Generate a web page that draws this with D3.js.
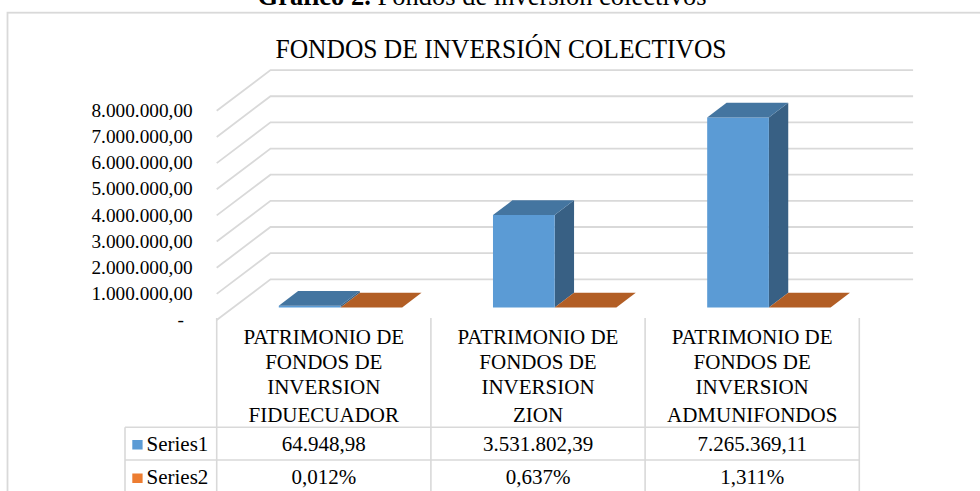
<!DOCTYPE html>
<html>
<head>
<meta charset="utf-8">
<script src="https://cdnjs.cloudflare.com/ajax/libs/d3/7.8.5/d3.min.js"></script>
<style>
  body { margin: 0; background: #fff; }
  svg { display: block; }
</style>
</head>
<body>
<script>
// data
var categories = [
  ["PATRIMONIO DE", "FONDOS DE", "INVERSION", "FIDUECUADOR"],
  ["PATRIMONIO DE", "FONDOS DE", "INVERSION", "ZION"],
  ["PATRIMONIO DE", "FONDOS DE", "INVERSION", "ADMUNIFONDOS"]
];
var seriesNames = ["Series1", "Series2"];
var series1 = [64948.98, 3531802.39, 7265369.11];
var series2 = [0.00012, 0.00637, 0.01311];   // shown as percent in the table
var seriesColors = ["#5B9BD5", "#ED7D31"];
var yTicks = [0, 1e6, 2e6, 3e6, 4e6, 5e6, 6e6, 7e6, 8e6];

var w = 980, h = 491;
var serif = "'Liberation Serif', 'Times New Roman', Times, 'DejaVu Serif', serif";
var es = d3.formatLocale({decimal: ",", thousands: ".", grouping: [3], currency: ["", ""]});
var fmtNum = es.format(",.2f");
var fmtPct = es.format(".3%");

var svg = d3.select("body").append("svg")
  .attr("width", w)
  .attr("height", h)
  .attr("font-family", serif)
  .style("font-family", serif);

svg.append("rect").attr("width", w).attr("height", h).attr("fill", "#fff");

// outer chart border (runs off the right and bottom)
svg.append("rect")
  .attr("x", 7.5).attr("y", 12.7)
  .attr("width", 1000).attr("height", 500)
  .attr("fill", "none").attr("stroke", "#d9d9d9").attr("stroke-width", 1.8);

// caption above, mostly cut off like in the picture
var cap = svg.append("text")
  .attr("x", 482).attr("y", 4.5)
  .attr("text-anchor", "middle")
  .style("font-size", "26.5px");
cap.append("tspan").attr("font-weight", "bold").text("Gráfico 2.");
cap.append("tspan").text(" Fondos de inversión colectivos");

// chart title (a bit narrower than the plain font)
svg.append("text")
  .attr("x", 501).attr("y", 57.7)
  .attr("text-anchor", "middle")
  .attr("textLength", 451)
  .attr("lengthAdjust", "spacingAndGlyphs")
  .style("font-size", "27.7px")
  .text("FONDOS DE INVERSIÓN COLECTIVOS");

// scales: front plane of the 3d box
var x0 = d3.scaleBand().domain(d3.range(categories.length)).range([216.7, 859.3]);
var x1 = d3.scaleBand().domain(d3.range(seriesNames.length))
  .range([0, x0.bandwidth()]).paddingInner(0).paddingOuter(0.736);
var y = d3.scaleLinear().domain([0, 8e6]).range([320, 110.8]);

// oblique depth offset for one unit of depth
var DX = 53.8, DY = -40.7;
function P(x, v, d) { return [x + d * DX, y(v) + d * DY]; }

var grid = svg.append("g").attr("stroke", "#d9d9d9").attr("stroke-width", 1.8).attr("fill", "none");
yTicks.forEach(function(t) {
  var a = P(x0.range()[0], t, 0), b = P(x0.range()[0], t, 1), c = P(x0.range()[1], t, 1);
  grid.append("path").attr("d", d3.line()([a, b, c]));
});

// axis labels
svg.append("g").selectAll("text")
  .data(yTicks)
  .enter().append("text")
  .attr("x", function(d) { return d === 0 ? 184 : 192.7; })
  .attr("y", function(d) { return y(d); })
  .attr("dy", "0.32em")
  .attr("text-anchor", "end")
  .style("font-size", "19.3px")
  .text(function(d) { return d === 0 ? "-" : fmtNum(d); });

// bars
var d0 = 0.31, d1 = 0.67;
var bars = [];
categories.forEach(function(c, i) {
  [series1, series2].forEach(function(s, j) {
    bars.push({i: i, j: j, v: s[i]});
  });
});
var line = d3.line();
var bg = svg.append("g");
bars.forEach(function(b) {
  var xa = x0(b.i) + x1(b.j), xb = xa + x1.bandwidth();
  var base = d3.rgb(seriesColors[b.j]);
  var g = bg.append("g");
  g.append("path")  // side
    .attr("d", line([P(xb, b.v, d0), P(xb, b.v, d1), P(xb, 0, d1), P(xb, 0, d0)]) + "Z")
    .attr("fill", base.darker(1.35));
  g.append("path")  // front
    .attr("d", line([P(xa, b.v, d0), P(xb, b.v, d0), P(xb, 0, d0), P(xa, 0, d0)]) + "Z")
    .attr("fill", base);
  g.append("path")  // top
    .attr("d", line([P(xa, b.v, d0), P(xb, b.v, d0), P(xb, b.v, d1), P(xa, b.v, d1)]) + "Z")
    .attr("fill", base.darker(0.8));
});

// data table under the chart
var tl = svg.append("g").attr("stroke", "#d9d9d9").attr("stroke-width", 1.6);
var colEdges = x0.domain().map(function(i) { return x0(i); }).concat([x0.range()[1]]);
colEdges.forEach(function(xe) {
  tl.append("line").attr("x1", xe).attr("x2", xe).attr("y1", 318).attr("y2", h);
});
tl.append("line").attr("x1", 125).attr("x2", 125).attr("y1", 427.3).attr("y2", h);
[427.3, 460].forEach(function(yy) {
  tl.append("line").attr("x1", 125).attr("x2", x0.range()[1]).attr("y1", yy).attr("y2", yy);
});

var lineY = [344, 369, 394, 422.3];
categories.forEach(function(c, i) {
  var t = svg.append("text")
    .attr("text-anchor", "middle")
    .style("font-size", "21px");
  c.forEach(function(s, k) {
    t.append("tspan").attr("x", x0(i) + x0.bandwidth() / 2).attr("y", lineY[k]).text(s);
  });
});

var rowY = [450.5, 484];
var rowVals = [series1.map(fmtNum), series2.map(fmtPct)];
seriesNames.forEach(function(name, j) {
  svg.append("rect")
    .attr("x", 132.3).attr("y", rowY[j] - 10.5)
    .attr("width", 10.3).attr("height", 9.5)
    .attr("fill", seriesColors[j]);
  svg.append("text")
    .attr("x", 146.5).attr("y", rowY[j])
    .style("font-size", "21px")
    .text(name);
  rowVals[j].forEach(function(s, i) {
    svg.append("text")
      .attr("x", x0(i) + x0.bandwidth() / 2).attr("y", rowY[j])
      .attr("text-anchor", "middle")
      .style("font-size", "21px")
      .text(s);
  });
});
</script>
</body>
</html>
